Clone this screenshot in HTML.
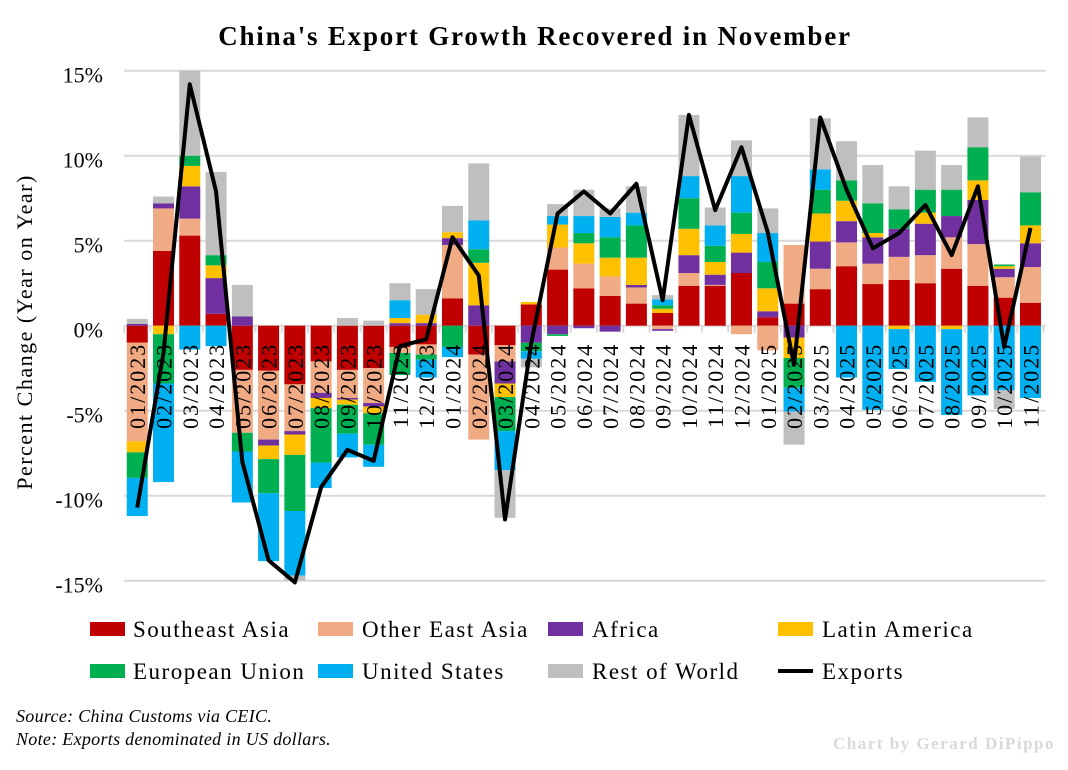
<!DOCTYPE html>
<html><head><meta charset="utf-8"><style>
html,body{margin:0;padding:0;background:#fff;}
svg text{font-family:"Liberation Serif",serif;}
</style></head><body>
<svg id="chart" width="1068" height="765" viewBox="0 0 1068 765" xmlns="http://www.w3.org/2000/svg">
<text x="535" y="45" text-anchor="middle" font-size="27" font-weight="bold" letter-spacing="1.8">China's Export Growth Recovered in November</text>
<text transform="translate(32,332) rotate(-90)" text-anchor="middle" font-size="22" letter-spacing="1.5">Percent Change (Year on Year)</text>
<g id="grid"></g>
<g id="bars"></g>
<g id="xlabels"></g>
<g id="line"></g>
<g font-size="23" letter-spacing="1.5">
 <rect x="90" y="622" width="35" height="14" fill="#C00000"/><text x="133" y="637">Southeast Asia</text>
 <rect x="318" y="622" width="35" height="14" fill="#F0AA84"/><text x="362" y="637">Other East Asia</text>
 <rect x="548" y="622" width="35" height="14" fill="#7030A0"/><text x="592" y="637">Africa</text>
 <rect x="778" y="622" width="35" height="14" fill="#FFC000"/><text x="822" y="637">Latin America</text>
 <rect x="90" y="664" width="35" height="14" fill="#00B050"/><text x="133" y="679">European Union</text>
 <rect x="318" y="664" width="35" height="14" fill="#00B0F0"/><text x="362" y="679">United States</text>
 <rect x="548" y="664" width="35" height="14" fill="#BFBFBF"/><text x="592" y="679">Rest of World</text>
 <line x1="778" y1="671" x2="813" y2="671" stroke="#000" stroke-width="4"/><text x="822" y="679">Exports</text>
</g>
<text x="16" y="722" font-size="18" font-style="italic" letter-spacing="0.3">Source: China Customs via CEIC.</text>
<text x="16" y="745" font-size="18" font-style="italic" letter-spacing="0.3">Note: Exports denominated in US dollars.</text>
<text x="1055" y="749" text-anchor="end" font-size="17" font-weight="bold" fill="#D9D9D9" letter-spacing="1.5">Chart by Gerard DiPippo</text>
</svg>
<script>
const months = ["01/2023","02/2023","03/2023","04/2023","05/2023","06/2023","07/2023","08/2023","09/2023","10/2023","11/2023","12/2023","01/2024","02/2024","03/2024","04/2024","05/2024","06/2024","07/2024","08/2024","09/2024","10/2024","11/2024","12/2024","01/2025","02/2025","03/2025","04/2025","05/2025","06/2025","07/2025","08/2025","09/2025","10/2025","11/2025"];
const southeastAsia = [-1.0,4.4,5.3,0.7,-2.6,-2.65,-3.45,-2.1,-2.6,-2.5,-1.25,-1.1,1.6,-1.7,-1.15,1.25,3.3,2.2,1.75,1.3,0.75,2.35,2.35,3.1,0.5,1.3,2.15,3.5,2.45,2.7,2.5,3.35,2.35,1.65,1.35];
const otherEastAsia = [-5.8,2.5,1.0,0,-3.7,-4.05,-2.75,-1.85,-1.65,-2.05,-0.35,-0.6,3.15,-5.0,-0.95,0,1.3,1.45,1.15,0.95,-0.2,0.75,0.05,-0.5,-1.45,3.45,1.2,1.4,1.2,1.35,1.65,1.85,2.45,1.2,2.1];
const africa = [0.1,0.3,1.9,2.1,0.55,-0.35,-0.2,-0.3,-0.1,-0.2,0.15,0.15,0.4,1.2,-1.3,-1.0,-0.5,-0.15,-0.35,0.15,-0.1,1.05,0.6,1.2,0.35,-0.7,1.6,1.25,1.55,1.65,1.85,1.25,2.6,0.5,1.4];
const latinAmerica = [-0.65,-0.5,1.2,0.75,0,-0.8,-1.2,-0.6,-0.3,-0.4,0.3,0.5,0.35,2.5,-0.8,0.15,1.35,1.2,1.1,1.6,0.25,1.55,0.75,1.1,1.35,-1.2,1.65,1.2,0.25,-0.2,0.65,-0.2,1.15,0.15,1.05];
const europeanUnion = [-1.5,-2.9,0.6,0.6,-1.1,-2.0,-3.3,-3.2,-1.7,-1.85,-1.3,-0.3,-1.25,0.8,-2.0,-0.5,-0.1,0.6,1.2,1.9,0.2,1.8,0.95,1.25,1.55,-1.75,1.4,1.2,1.75,1.15,1.35,1.55,1.95,0.1,1.95];
const unitedStates = [-2.25,-5.8,-1.4,-1.2,-3.0,-4.0,-3.8,-1.5,-1.4,-1.3,1.05,-1.05,-0.6,1.7,-2.3,-0.45,0.5,1.0,1.2,0.75,0.35,1.3,1.2,2.15,1.7,-1.4,1.2,-3.05,-4.95,-2.35,-3.3,-5.05,-4.1,-3.8,-4.25];
const restOfWorld = [0.3,0.4,5.5,4.9,1.85,0,-0.3,0,0.45,0.3,1.0,1.5,1.55,3.35,-2.8,-0.5,0.7,1.55,0.5,1.55,0.25,3.6,1.05,2.1,1.45,-1.95,3.0,2.3,2.25,1.35,2.3,1.45,1.75,-1.1,2.1];
const exportsTotal = [-10.7,-1.6,14.2,7.9,-8.0,-13.8,-15.1,-9.5,-7.3,-7.95,-1.2,-0.8,5.2,2.95,-11.4,-1.0,6.6,7.9,6.6,8.35,1.5,12.4,6.8,10.5,5.5,-2.3,12.25,8.0,4.55,5.45,7.1,4.15,8.2,-1.25,5.75];
const yTicks = [15,10,5,0,-5,-10,-15];
const yTickLabels = ["15%","10%","5%","0%","-5%","-10%","-15%"];

const NS="http://www.w3.org/2000/svg";
const plotL=124.1, plotR=1043.6, zeroY=325.7, pxPer=17.0, yMax=15, yMin=-15.2;
const step=(plotR-plotL)/months.length, barW=21;
function y(v){return zeroY - v*pxPer;}
function xc(i){return plotL + step*(i+0.5);}
function mk(tag,attrs,parent){const e=document.createElementNS(NS,tag);for(const k in attrs)e.setAttribute(k,attrs[k]);parent.appendChild(e);return e;}

const grid=document.getElementById('grid');
yTicks.forEach((t,i)=>{
  const l=mk('line',{x1:plotL,x2:plotR+2,y1:y(t),y2:y(t),stroke:'#D9D9D9','stroke-width':2},grid);
  
  
  const tx=mk('text',{x:103,y:y(t)+12,'text-anchor':'end','font-size':22},grid);
  tx.textContent=yTickLabels[i];
  
  
});

const series=[["southeast-asia",southeastAsia,"#C00000"],["other-east-asia",otherEastAsia,"#F0AA84"],["africa",africa,"#7030A0"],["latin-america",latinAmerica,"#FFC000"],["european-union",europeanUnion,"#00B050"],["united-states",unitedStates,"#00B0F0"],["rest-of-world",restOfWorld,"#BFBFBF"]];
const bars=document.getElementById('bars');
months.forEach((m,i)=>{
  let pos=0,neg=0;
  series.forEach(s=>{
    const v=s[1][i]; if(!v) return;
    let a,b;
    if(v>0){a=pos;b=pos+v;pos=b;}else{a=neg;b=neg+v;neg=b;}
    const top=y(Math.min(Math.max(a,b),yMax)), bot=y(Math.max(Math.min(a,b),yMin));
    if(bot<=top) return;
    const r=mk('rect',{x:xc(i)-barW/2,y:top,width:barW,height:bot-top,fill:s[2]},bars);
    
    
  });
});
for(let i=0;i<=months.length;i++){
  const t=mk('line',{x1:plotL+step*i,x2:plotL+step*i,y1:zeroY,y2:zeroY+7,stroke:'#D9D9D9','stroke-width':2},grid);
  
  
}
const xl=document.getElementById('xlabels');
months.forEach((m,i)=>{
  const t=mk('text',{transform:'translate('+(xc(i)+8)+','+(zeroY+17)+') rotate(-90)','text-anchor':'end','font-size':22,'letter-spacing':2},xl);
  t.textContent=m;
  
  
});
const lg=document.getElementById('line');
const p=mk('polyline',{points:exportsTotal.map((v,i)=>xc(i)+','+y(v)).join(' '),fill:'none',stroke:'#000','stroke-width':4,'stroke-linejoin':'round'},lg);


</script>
</body></html>
